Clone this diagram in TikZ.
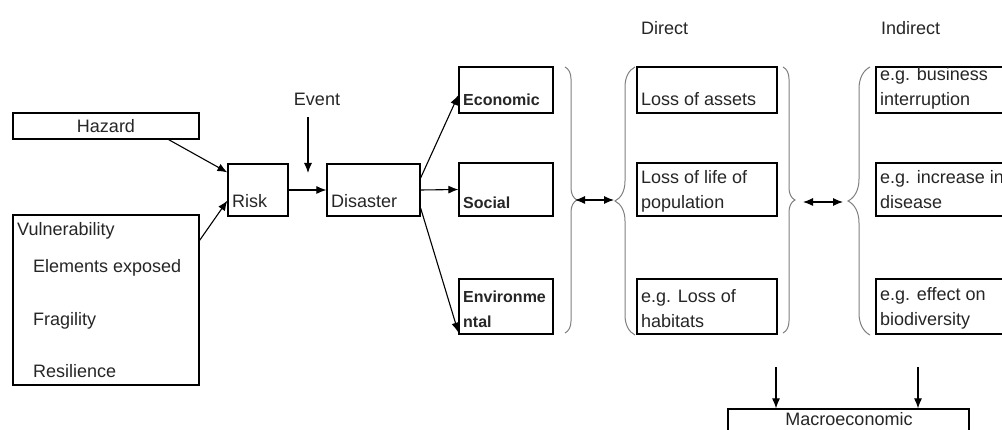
\documentclass[tikz,border=0pt]{standalone}
\usepackage{fontspec}
\setmainfont{Liberation Sans}
\usetikzlibrary{positioning,arrows.meta,decorations.pathreplacing}
\tikzset{box/.style = {draw,line width=1.2pt,inner sep=0pt},
         txt/.style = {inner sep=0pt,anchor=base west,align=left,text=black!85,font=\fontsize{18}{25}\selectfont},
         bld/.style = {txt,font=\fontsize{16}{25}\selectfont\bfseries},
         arr/.style = {-{Latex[length=10pt,width=8pt]},line width=1.1pt},
         darr/.style = {{Latex[length=10pt,width=8pt]}-{Latex[length=10pt,width=8pt]},line width=1.1pt},
         brc/.style = {draw=gray,line width=1pt,decorate,decoration={brace,amplitude=#1}}}

\begin{document}
\begin{tikzpicture}[x=1pt,y=-1pt]
    \useasboundingbox (0,0) rectangle (1002,430);
    \clip (0,0) rectangle (1002,430);
    \fill[white] (0,0) rectangle (1002,430);

    % boxes
    \foreach \n/\x/\y/\w/\h in {hazard/106/126/186/26, vuln/106/300/186/170,
            risk/258/190/60/52, disaster/373.5/190/93/52,
            econ/506/90/94/46, social/506/189.5/94/53, env/506/306.5/94/55,
            dir1/707/90/140/46, dir2/707/189.5/140/53, dir3/707/306.5/140/55,
            ind1/946/90/140/46, ind2/946/189.5/140/53, ind3/946/306.5/140/55,
            macro/848.5/425/241/32} {
        \node [box,minimum width=\w,minimum height=\h] (\n) at (\x,\y) {};
    }

    % texts
    \node [txt,anchor=center] (hazardtxt) at (hazard) {Hazard};
    \node [txt] (vulntxt) at (17,236) {Vulnerability};
    \node [txt] (expotxt) at (33,273) {Elements exposed};
    \node [txt] (fragtxt) at (33,326) {Fragility};
    \node [txt] (resitxt) at (33,378) {Resilience};
    \node [txt] (risktxt) at (232,208) {Risk};
    \node [txt] (disatxt) at (331,208) {Disaster};
    \node [txt,anchor=center] (event) at (317,99) {Event};
    \node [bld] (econtxt) at (463,106) {Economic};
    \node [bld] (soctxt) at (463,209) {Social};
    \node [bld] (envtxt) at (463,328) {Environme\\ntal};
    \node [txt,anchor=west] (direct) at (641,28) {Direct};
    \node [txt,anchor=west] (indirect) at (881,28) {Indirect};
    \node [txt] (dir1txt) at (641,106) {Loss of assets};
    \node [txt] (dir2txt) at (641,209) {Loss of life of\\population};
    \node [txt] (dir3txt) at (641,328) {e.g. Loss of\\habitats};
    \node [txt] (ind1txt) at (880,106) {e.g. business\\interruption};
    \node [txt] (ind2txt) at (880,209) {e.g. increase in\\disease};
    \node [txt] (ind3txt) at (880,326) {e.g. effect on\\biodiversity};
    \node [txt,anchor=center] (macrotxt) at (849,419) {Macroeconomic};

    % arrows
    \draw [arr] ([xshift=-31pt]hazard.south east) -- ([yshift=-9pt]risk.north west);
    \draw [arr] ([yshift=-26pt]vuln.north east) -- ([yshift=16pt]risk.south west);
    \draw [arr] (risk) -- (disaster);
    \coordinate (hit) at (308,173);
    \draw [arr] ([xshift=-9pt,yshift=-12pt]event.south) -- (hit);
    \draw [arr] ([yshift=12pt]disaster.east) -- ([yshift=-5pt]econ.west);
    \draw [arr] (disaster.east) -- (social.west);
    \draw [arr] ([yshift=-18pt]disaster.east) -- ([yshift=2pt]env.south west);

    % braces
    \draw [brc=12] (565,67) -- (565,333);
    \draw [brc=20] (635,335) -- (635,67);
    \draw [brc=12] (783,67) -- (783,333);
    \draw [brc=22] (870,335) -- (870,67);
    \coordinate (b1) at (575,200);
    \coordinate (b2) at (614,200);
    \coordinate (b3) at (803,202);
    \coordinate (b4) at (843,202);
    \draw [darr] (b1) -- (b2);
    \draw [darr] (b3) -- (b4);

    % down to macroeconomic
    \coordinate (dd) at (776,367);
    \coordinate (id) at (918,367);
    \draw [arr] (dd) -- (dd |- macro.north);
    \draw [arr] (id) -- (id |- macro.north);
\end{tikzpicture}
\end{document}
